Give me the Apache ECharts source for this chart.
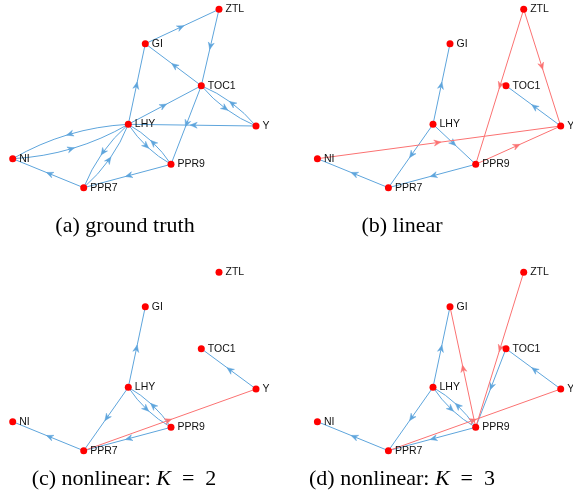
<!DOCTYPE html>
<html><head><meta charset="utf-8">
<script src="https://cdn.jsdelivr.net/npm/echarts@6/dist/echarts.min.js"></script>
<style>html,body{margin:0;padding:0;background:#fff}#c{width:573px;height:504px}</style>
</head><body><div id="c"></div>
<script>
// ---- data ----
const nodeNames = ['ZTL', 'GI', 'TOC1', 'LHY', 'Y', 'NI', 'PPR9', 'PPR7'];
const nodeX = [219.0, 145.3, 201.3, 128.3, 256.0, 12.7, 171.0, 83.7];
const nodeY = [190.7, 156.3, 114.3, 75.7, 74.0, 41.3, 35.7, 12.3];

// edges as [source, target]
const truthEdges = [
  ['GI','ZTL'], ['ZTL','TOC1'], ['TOC1','GI'], ['LHY','GI'], ['LHY','TOC1'],
  ['TOC1','Y'], ['Y','TOC1'], ['Y','LHY'], ['TOC1','PPR9'],
  ['LHY','NI'], ['NI','LHY'], ['LHY','PPR9'], ['PPR9','LHY'],
  ['LHY','PPR7'], ['PPR7','LHY'], ['PPR9','PPR7'], ['PPR7','NI']
];
const linearCorrect = [
  ['LHY','GI'], ['LHY','PPR7'], ['LHY','PPR9'], ['PPR9','PPR7'], ['PPR7','NI'], ['Y','TOC1']
];
const linearWrong = [
  ['NI','Y'], ['PPR9','Y'], ['ZTL','PPR9'], ['ZTL','Y']
];
const k2Correct = [
  ['LHY','GI'], ['LHY','PPR7'], ['LHY','PPR9'], ['PPR9','LHY'], ['PPR9','PPR7'], ['PPR7','NI'], ['Y','TOC1']
];
const k2Wrong = [
  ['PPR7','Y']
];
const k3Correct = [
  ['LHY','GI'], ['LHY','PPR7'], ['LHY','PPR9'], ['PPR9','LHY'], ['PPR9','PPR7'], ['PPR7','NI'], ['Y','TOC1'], ['TOC1','PPR9']
];
const k3Wrong = [
  ['ZTL','PPR9'], ['PPR9','GI'], ['PPR7','Y']
];
const panelCaptions = [
  '(a) ground truth',
  '(b) linear',
  '(c) nonlinear: {k|K}\u2002=\u20022',
  '(d) nonlinear: {k|K}\u2002=\u20023'
];

// ---- styling / layout ----
const BLUE = '#5ea5dc';
const RED = '#fb7272';
const PW = 268.3, PH = 200;
const panels = [
  {ox: 0, oy: 0, blue: truthEdges, red: []},
  {ox: 304.7, oy: 0, blue: linearCorrect, red: linearWrong},
  {ox: 0, oy: 263, blue: k2Correct, red: k2Wrong},
  {ox: 304.7, oy: 263, blue: k3Correct, red: k3Wrong}
];
const captionPos = [[125, 226.5], [402, 226.5], [124, 479.5], [402, 479.5]];

function idx(n) { return nodeNames.indexOf(n); }

function renderEdge(params, api) {
  const p1 = api.coord([api.value(0), api.value(1)]);
  const p2 = api.coord([api.value(2), api.value(3)]);
  const color = api.value(4) === 1 ? RED : BLUE;
  const curved = api.value(5) === 1;
  const dx = p2[0] - p1[0], dy = p2[1] - p1[1];
  const len = Math.hypot(dx, dy);
  const ux = dx / len, uy = dy / len;
  const nx = -uy, ny = ux;
  const children = [];
  let mx, my;
  if (curved) {
    const b = 0.06 * len;
    const cx = (p1[0] + p2[0]) / 2 + nx * 2 * b;
    const cy = (p1[1] + p2[1]) / 2 + ny * 2 * b;
    children.push({type: 'bezierCurve', shape: {x1: p1[0], y1: p1[1], x2: p2[0], y2: p2[1], cpx1: cx, cpy1: cy},
      style: {stroke: color, lineWidth: 1, fill: null}});
    mx = (p1[0] + p2[0]) / 2 + nx * b;
    my = (p1[1] + p2[1]) / 2 + ny * b;
  } else {
    children.push({type: 'line', shape: {x1: p1[0], y1: p1[1], x2: p2[0], y2: p2[1]},
      style: {stroke: color, lineWidth: 1}});
    mx = (p1[0] + p2[0]) / 2;
    my = (p1[1] + p2[1]) / 2;
  }
  const L = 7, W = 3, N = 4.8;
  const tx = mx + ux * 2, ty = my + uy * 2;
  const pts = [
    [tx, ty],
    [tx - ux * L + nx * W, ty - uy * L + ny * W],
    [tx - ux * N, ty - uy * N],
    [tx - ux * L - nx * W, ty - uy * L - ny * W]
  ];
  children.push({type: 'polygon', shape: {points: pts}, style: {fill: color, stroke: color, lineWidth: 0.5}});
  return {type: 'group', children: children};
}

const grid = [], xAxis = [], yAxis = [], series = [], graphic = [];
panels.forEach((p, i) => {
  grid.push({left: p.ox, top: p.oy, width: PW, height: PH});
  xAxis.push({type: 'value', gridIndex: i, min: 0, max: PW, show: false});
  yAxis.push({type: 'value', gridIndex: i, min: 0, max: PH, show: false});
  const all = p.blue.concat(p.red);
  const hasRev = (e) => all.some(f => f[0] === e[1] && f[1] === e[0]);
  const build = (list, isRed) => list.map(e => {
    const a = idx(e[0]), b = idx(e[1]);
    return [nodeX[a], nodeY[a], nodeX[b], nodeY[b], isRed ? 1 : 0, hasRev(e) ? 1 : 0];
  });
  series.push({type: 'custom', coordinateSystem: 'cartesian2d', xAxisIndex: i, yAxisIndex: i,
    renderItem: renderEdge, data: build(p.blue, false), clip: false, silent: true, z: 1});
  if (p.red.length) {
    series.push({type: 'custom', coordinateSystem: 'cartesian2d', xAxisIndex: i, yAxisIndex: i,
      renderItem: renderEdge, data: build(p.red, true), clip: false, silent: true, z: 2});
  }
  series.push({type: 'scatter', xAxisIndex: i, yAxisIndex: i, z: 3, silent: true,
    symbolSize: 7, itemStyle: {color: '#ff0000', opacity: 1},
    label: {show: true, position: 'right', distance: 3, formatter: '{b}',
      fontFamily: 'Liberation Sans', fontSize: 10.5, color: '#111'},
    data: nodeNames.map((n, k) => ({name: n, value: [nodeX[k], nodeY[k]]}))});
  graphic.push({type: 'text', x: captionPos[i][0], y: captionPos[i][1],
    style: {text: panelCaptions[i], fontFamily: 'Liberation Serif', fontSize: 22, fill: '#000',
      align: 'center', verticalAlign: 'middle',
      rich: {k: {fontFamily: 'Liberation Serif', fontStyle: 'italic', fontSize: 22, fill: '#000'}}}});
});

const chart = echarts.init(document.getElementById('c'), null, {renderer: 'canvas'});
chart.setOption({animation: false, grid, xAxis, yAxis, series, graphic});
</script></body></html>
